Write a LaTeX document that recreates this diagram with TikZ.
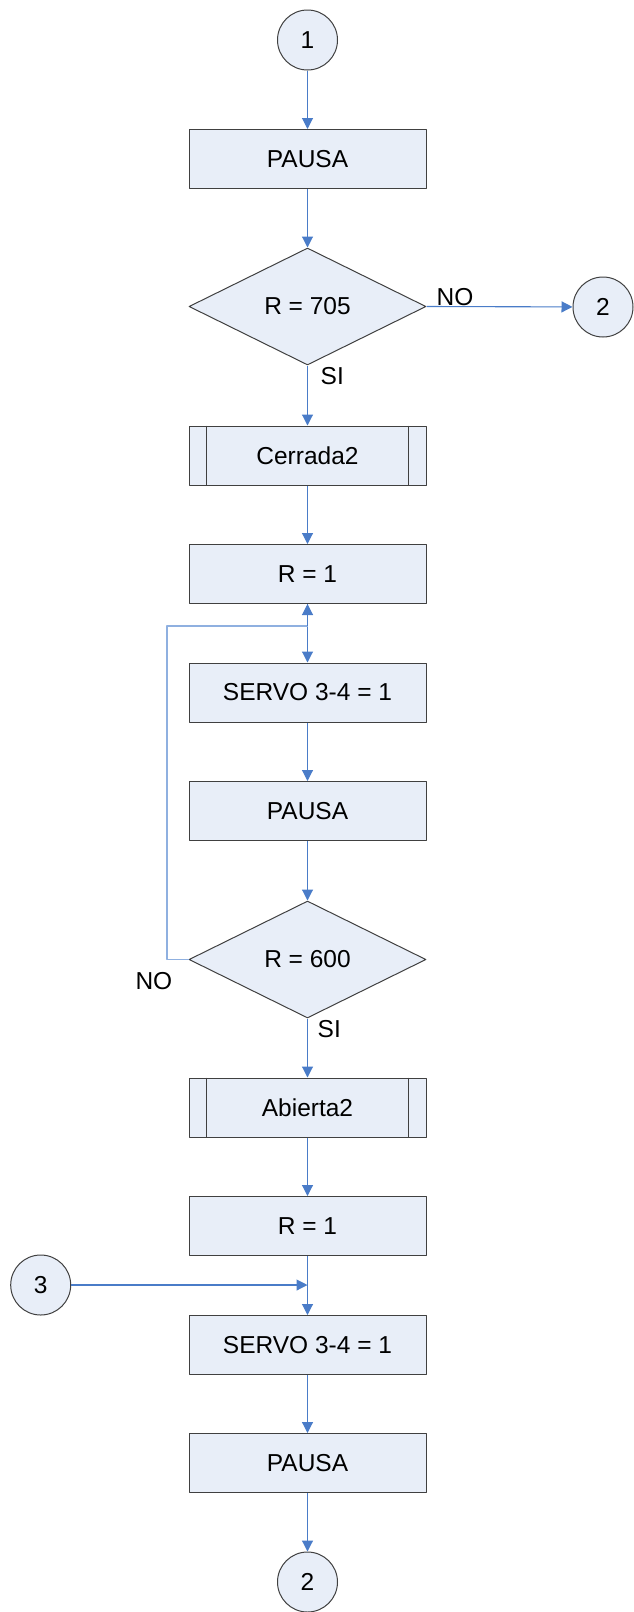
\documentclass[tikz,border=0pt]{standalone}
\usepackage{fontspec}
\setmainfont{Liberation Sans}
\usetikzlibrary{arrows.meta,shapes.geometric}
\definecolor{boxfill}{HTML}{E8EEF8}
\definecolor{flowblue}{HTML}{4A7CC8}
\definecolor{loopblue}{HTML}{8FB0E0}

\begin{document}
\begin{tikzpicture}[
  x=1pt,
  y=-1pt,
  line join=round,
  font=\fontsize{24.5}{29}\selectfont,
  proc/.style={draw=black!75,fill=boxfill,line width=1pt,minimum width=237pt,minimum height=59pt,inner sep=0pt},
  decision/.style={draw=black!75,fill=boxfill,line width=1pt,diamond,minimum width=237pt,minimum height=117pt,inner sep=0pt},
  connector/.style={draw=black!75,fill=boxfill,line width=1pt,circle,minimum size=60pt,inner sep=0pt},
  flow/.style={draw=flowblue,line width=1.1pt,-{Triangle[length=11pt,width=11pt]}},
  loopline/.style={draw=loopblue,line width=1.6pt},
  lbl/.style={inner sep=0pt}
]
  \useasboundingbox (0,0) rectangle (633,1612);

  % Upper part: entry, wait and first check.
  \node[connector] (c1) at (307.5,40) {1};
  \node[proc] (p1) at (307.5,159) {PAUSA};
  \node[decision] (d1) at (307.5,306.5) {R = 705};
  \node[connector] (c2a) at (603,307) {2};
  \node[proc] (sub1) at (307.5,455.5) {Cerrada2};
  \node[proc] (r1) at (307.5,574) {R = 1};

  % Loop until R reaches 600.
  \node[proc] (s1) at (307.5,692.5) {SERVO 3-4 = 1};
  \node[proc] (p2) at (307.5,811) {PAUSA};
  \node[decision] (d2) at (307.5,959.5) {R = 600};

  % Lower part.
  \node[proc] (sub2) at (307.5,1107.5) {Abierta2};
  \node[proc] (r2) at (307.5,1226) {R = 1};
  \node[connector] (c3) at (40.7,1285) {3};
  \node[proc] (s2) at (307.5,1345) {SERVO 3-4 = 1};
  \node[proc] (p3) at (307.5,1463) {PAUSA};
  \node[connector] (c2b) at (307.5,1582) {2};

  % Side bars of the subroutine boxes.
  \foreach \s in {sub1,sub2} {
    \draw[draw=black!75,line width=1pt] ([xshift=18pt]\s.north west) -- ([xshift=18pt]\s.south west);
    \draw[draw=black!75,line width=1pt] ([xshift=-18pt]\s.north east) -- ([xshift=-18pt]\s.south east);
  }

  \coordinate (lp) at (166.7,625.7);
  \coordinate (lj) at (r1.south |- lp);
  \coordinate (j3) at (s2.north |- c3);

  % Connectors.
  \draw[flow] (c1) -- (p1);
  \draw[flow] (p1) -- (d1);
  \draw[flow] (d1.east) -- (c2a);
  \node[lbl,anchor=base west] (no1) at ([xshift=10pt,yshift=1pt]d1.east) {NO};
  \draw[flow] (d1.south) -- (sub1);
  \node[lbl,anchor=north west] (si1) at ([xshift=13pt,yshift=-2pt]d1.south) {SI};
  \draw[flow] (sub1) -- (r1);
  \draw[flow] (r1) -- (s1);
  \draw[flow] (s1) -- (p2);
  \draw[flow] (p2) -- (d2);
  \draw[loopline] (d2.west) -| (lp) -- (lj);
  \draw[flow] (lj) -- (r1.south);
  \node[lbl,anchor=north east] (no2) at ([xshift=-16pt,yshift=-13pt]d2.west) {NO};
  \draw[flow] (d2.south) -- (sub2);
  \node[lbl,anchor=north west] (si2) at ([xshift=10pt,yshift=-2pt]d2.south) {SI};
  \draw[flow] (sub2) -- (r2);
  \draw[flow] (r2) -- (s2);
  \draw[flow] (c3) -- (j3);
  \draw[flow] (s2) -- (p3);
  \draw[flow] (p3) -- (c2b);
\end{tikzpicture}
\end{document}
